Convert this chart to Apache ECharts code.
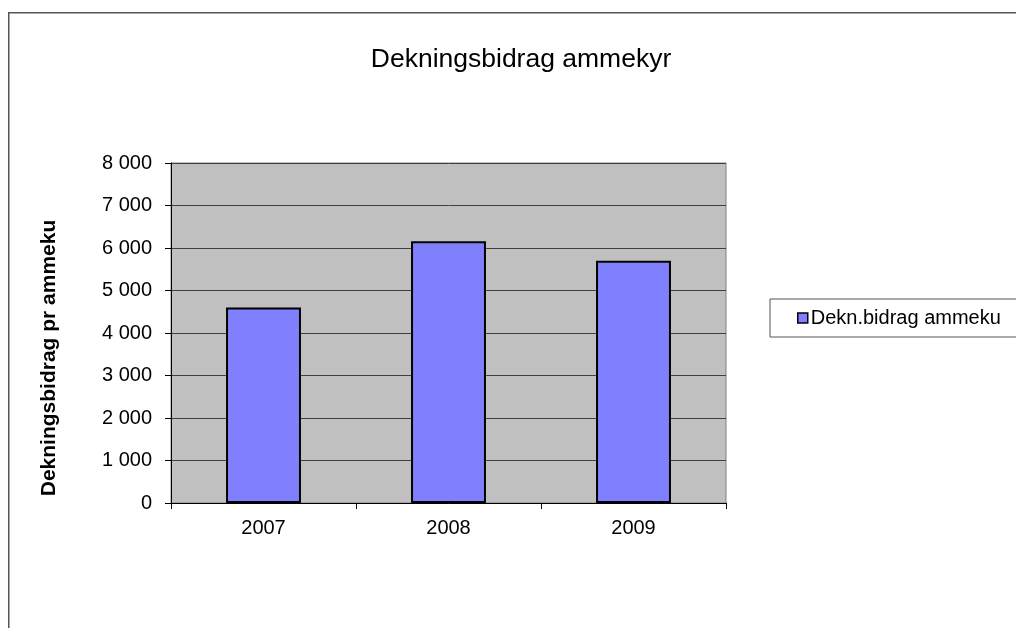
<!DOCTYPE html>
<html>
<head>
<meta charset="utf-8">
<script src="https://cdn.jsdelivr.net/npm/echarts@6/dist/echarts.min.js"></script>
<style>html,body{margin:0;padding:0;background:#fff;}#c{width:1016px;height:628px;}</style>
</head>
<body>
<div id="c"></div>
<script>
const categories = ['2007', '2008', '2009'];
const values = [4600, 6160, 5700];
const seriesName = 'Dekn.bidrag ammeku';
const titleText = 'Dekningsbidrag ammekyr';
const yAxisName = 'Dekningsbidrag pr ammeku';

const chart = echarts.init(document.getElementById('c'));
const font = 'Arial, "Liberation Sans", sans-serif';
chart.setOption({
  animation: false,
  textStyle: { fontFamily: font },
  graphic: [{
    type: 'rect', left: 8, top: 12, z: -10,
    shape: { width: 1100, height: 700 },
    style: { fill: '#fff', stroke: '#555', lineWidth: 1.5 }
  }, {
    type: 'text', x: 49, y: 358, rotation: Math.PI / 2,
    style: { text: yAxisName, fontSize: 21, fontWeight: 'bold', fill: '#000', fontFamily: font,
      align: 'center', verticalAlign: 'middle' }
  }],
  title: {
    text: titleText, left: 516, top: 41, textAlign: 'center',
    textStyle: { fontSize: 26.5, fontWeight: 'normal', color: '#000', fontFamily: font }
  },
  legend: {
    left: 770, top: 299, orient: 'vertical',
    data: [seriesName],
    icon: 'rect', itemWidth: 10, itemHeight: 10, itemGap: 0,
    borderColor: '#555', borderWidth: 1,
    padding: [9, 40, 9, 27],
    textStyle: { fontSize: 20, color: '#000', fontFamily: font, padding: [0, 0, 0, -2] },
    itemStyle: { borderColor: '#000', borderWidth: 1.5 }
  },
  grid: { left: 171, top: 163, width: 555, height: 340, show: true, backgroundColor: '#c0c0c0', borderColor: '#808080', borderWidth: 1 },
  xAxis: {
    type: 'category', data: categories,
    axisLine: { lineStyle: { color: '#000', width: 1 } },
    axisTick: { show: true, alignWithLabel: false, length: 6, lineStyle: { color: '#000' } },
    axisLabel: { fontSize: 20, color: '#000', margin: 15, fontFamily: font }
  },
  yAxis: {
    type: 'value', min: 0, max: 8000, interval: 1000,
    axisLine: { show: true, lineStyle: { color: '#000' } },
    axisTick: { show: true, length: 6, lineStyle: { color: '#000' } },
    axisLabel: { fontSize: 20, color: '#000', margin: 19, fontFamily: font,
      formatter: v => String(v).replace(/\B(?=(\d{3})+(?!\d))/g, ' ') },
    splitLine: { lineStyle: { color: '#404040', width: 1 } }
  },
  series: [{
    type: 'bar', name: seriesName, data: values,
    barWidth: '40.5%',
    itemStyle: { color: '#8080ff', borderColor: '#000', borderWidth: 2 }
  }]
});
</script>
</body>
</html>
